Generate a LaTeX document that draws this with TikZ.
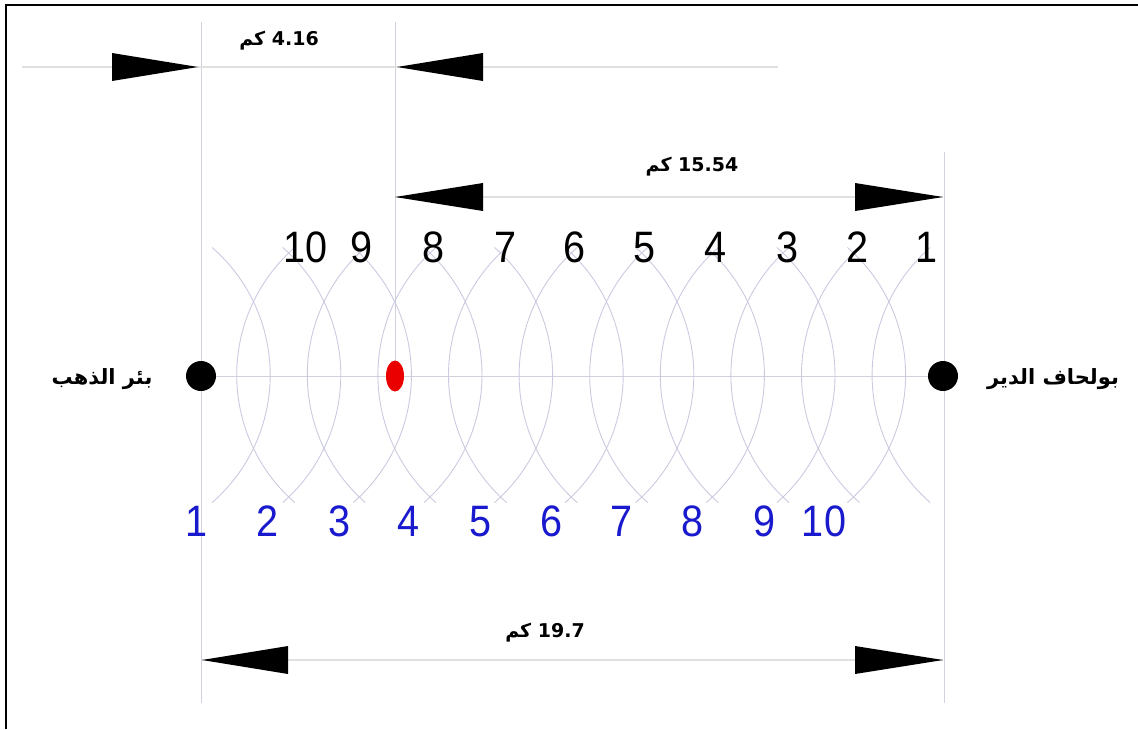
\documentclass[tikz,border=0pt]{standalone}
\usepackage{fontspec}
\TeXXeTstate=1
\newfontfamily\numfont[FakeStretch=0.9]{Liberation Sans}
\newfontfamily\arabicfont[Script=Arabic]{DejaVu Sans}
\usetikzlibrary{shapes.geometric,backgrounds}
\definecolor{arcc}{RGB}{202,202,224}
\definecolor{guide}{RGB}{210,210,220}
\definecolor{dimc}{RGB}{224,224,224}
\definecolor{bnumc}{RGB}{25,25,205}
\definecolor{redc}{RGB}{235,0,0}
\begin{document}
\begin{tikzpicture}[x=1pt,y=-1pt,
  num/.style={font=\numfont\fontsize{44}{44}\selectfont, inner sep=0pt, text=black, anchor=base},
  bnum/.style={num, text=bnumc},
  lab/.style={font=\arabicfont\bfseries\fontsize{19}{19}\selectfont, inner sep=0pt, anchor=base},
  place/.style={lab, font=\arabicfont\bfseries\fontsize{21}{21}\selectfont},
  guideline/.style={draw=guide, line width=1pt},
  dimline/.style={draw=dimc, line width=1.6pt},
  arcline/.style={draw=arcc, line width=0.9pt},
  station/.style={circle, fill=black, minimum size=30pt, inner sep=0pt},
  target/.style={ellipse, fill=redc, minimum width=18pt, minimum height=31pt, inner sep=0pt},
  arrowtri/.style={fill=black}]
\useasboundingbox (0,0) rectangle (1138,729);
% frame
\draw[line width=2pt] (6,729) -- (6,5) -- (1138,5);

% stations
\node[station] (A) at (201,376) {};
\node[station] (B) at (943,376) {};
\node[target] (P) at (395,376) {};

% guide coordinates
\coordinate (v1t) at (201,22);
\coordinate (v1b) at (201,703);
\coordinate (v2t) at (395,22);
\coordinate (v3t) at (944,152);
\coordinate (v3b) at (944,703);

\begin{pgfonlayer}{background}
  \draw[guideline] (v1t) -- (v1b);
  \draw[guideline] (v2t) -- (P.center);
  \draw[guideline] (v3t) -- (v3b);
  \draw[guideline] (A.center) -- (B.center);
  % wave arcs
  \foreach \k in {0,...,9}{
    \pgfmathsetmacro\ax{236.7+70.6*\k}
    \pgfmathsetmacro\bx{\ax+33.5}
    \draw[arcline] (\ax+169,375) ++(131:169) arc[start angle=131,end angle=229,radius=169];
    \draw[arcline] (\bx-169,375) ++(-49:169) arc[start angle=-49,end angle=49,radius=169];
  }
\end{pgfonlayer}

% dimension 4.16
\coordinate (d1L) at (22,67);
\coordinate (d1R) at (778,67);
\coordinate (d1a) at (198,67);
\coordinate (d1b) at (397,67);
\draw[dimline] (d1L) -- (d1R);
\fill[arrowtri] (d1a) -- ++(-86,-14) -- ++(0,28) -- cycle;
\fill[arrowtri] (d1b) -- ++(86,-14) -- ++(0,28) -- cycle;
\node[lab] (l1) at (279,45) {\beginR\beginL 4.16\endL{} كم\endR};

% dimension 15.54
\coordinate (d2a) at (395,197);
\coordinate (d2b) at (943,197);
\draw[dimline] (d2a) -- (d2b);
\fill[arrowtri] (d2a) -- ++(88,-14) -- ++(0,28) -- cycle;
\fill[arrowtri] (d2b) -- ++(-88,-14) -- ++(0,28) -- cycle;
\node[lab] (l2) at (692,171) {\beginR\beginL 15.54\endL{} كم\endR};

% dimension 19.7
\coordinate (d3a) at (202,660);
\coordinate (d3b) at (943,660);
\draw[dimline] (d3a) -- (d3b);
\fill[arrowtri] (d3a) -- ++(86,-14) -- ++(0,28) -- cycle;
\fill[arrowtri] (d3b) -- ++(-88,-14) -- ++(0,28) -- cycle;
\node[lab] (l3) at (545,637) {\beginR\beginL 19.7\endL{} كم\endR};

% place names
\node[place] (nA) at (102,384) {\beginR بئر الذهب\endR};
\node[place] (nB) at (1053,384) {\beginR بولحاف الدير\endR};

% top numbers
\foreach \n/\x in {10/306,9/362,8/434,7/506,6/575,5/645,4/716,3/788,2/858,1/927}{
  \node[num] (t\n) at (\x,262) {\n};
}
% bottom numbers
\foreach \n/\x in {1/197,2/268,3/340,4/409,5/481,6/552,7/622,8/693,9/765,10/824}{
  \node[bnum] (b\n) at (\x,536) {\n};
}
\end{tikzpicture}
\end{document}
